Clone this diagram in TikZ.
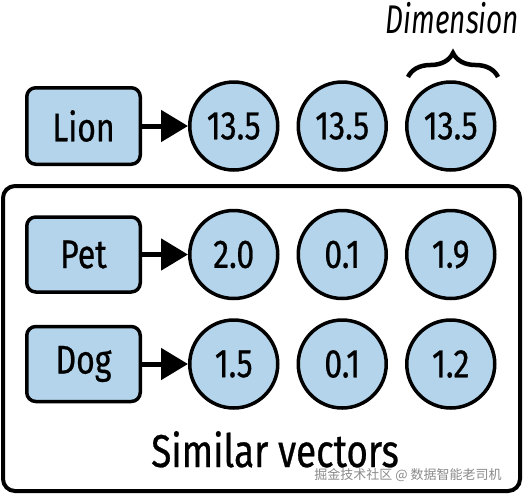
\documentclass[tikz,border=0pt]{standalone}
\usepackage{fontspec}
\setmainfont{Fira Sans}[FakeStretch=0.8, FakeBold=0.6]
\newfontfamily\dimfont{Fira Sans}[FakeStretch=0.7]
\newfontfamily\cjk{Noto Sans CJK SC}
\usetikzlibrary{arrows.meta,positioning,decorations.pathreplacing}
\definecolor{vecFill}{HTML}{B3D4EA}
\definecolor{vecMark}{HTML}{8A8A8A}

\begin{document}
\begin{tikzpicture}[x=1pt, y=-1pt,
          node distance=17pt,
          w/.style={draw, line width=3.5pt, rounded corners=9pt, fill=vecFill,
            minimum width=113.5pt, minimum height=75pt, inner sep=0pt,
            font=\fontsize{40}{40}\selectfont},
          v/.style={draw, circle, line width=3.5pt, fill=vecFill,
            minimum size=88pt, inner sep=0pt, font=\fontsize{40}{40}\selectfont},
          arr/.style={-{Triangle[length=27pt, width=31pt]}, line width=5pt}]
        \useasboundingbox (0,0) rectangle (524,496);
        % group frame
        \draw[line width=4pt, rounded corners=12pt] (3,186) rectangle (520,491);
        % rows
        \node[w, minimum height=76.5pt] (lion) at (83.5,126) {Lion};
        \node[v, right=46pt of lion] (l1) {13.5};
        \node[v, right=of l1] (l2) {13.5};
        \node[v, right=of l2] (l3) {13.5};
        \node[w] (pet) at (83.5,254.5) {Pet};
        \node[v, right=46pt of pet] (p1) {2.0};
        \node[v, right=of p1] (p2) {0.1};
        \node[v, right=of p2] (p3) {1.9};
        \node[w] (dog) at (83.5,364) {Dog};
        \node[v, right=46pt of dog] (d1) {1.5};
        \node[v, right=of d1] (d2) {0.1};
        \node[v, right=of d2] (d3) {1.2};
        \draw[arr] (lion) -- (l1);
        \draw[arr] (pet) -- (p1);
        \draw[arr] (dog) -- (d1);
        % labels
        \node[anchor=base, font=\dimfont\fontsize{40}{40}\selectfont\itshape] (dim) at (452.5,33) {Dimension};
        \draw[decorate, decoration={brace, amplitude=24pt}, line width=4.5pt]
          (408,77) -- (498,77);
        \node[anchor=base, font=\fontsize{46}{46}\selectfont] (sim) at (275,467) {Similar vectors};
        \node[font=\cjk\fontsize{13}{13}\selectfont, text=vecMark] (wm) at (408,475) {掘金技术社区 @ 数据智能老司机};
      \end{tikzpicture}
\end{document}
